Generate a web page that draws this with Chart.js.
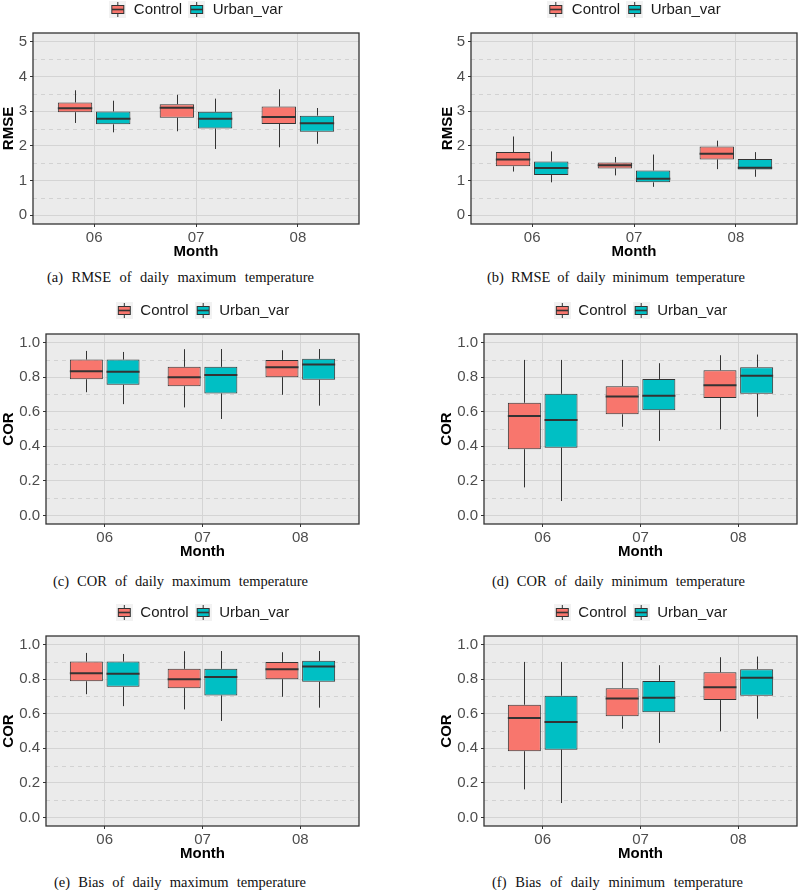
<!DOCTYPE html>
<html lang="en">
<head>
    <meta charset="UTF-8">
    <title>RMSE and COR of daily temperature</title>

    <style>
        body {
            margin: 0;
            width: 800px;
            height: 890px;
            position: relative;
            overflow: hidden;
            background: #ffffff;
        }
        canvas { position: absolute; }
        .legenda {
            position: absolute;
            font-family: "Liberation Serif", "Times New Roman", serif;
            font-size: 14.5px;
            line-height: 16px;
            color: #111;
            white-space: nowrap;
            text-align: justify;
            text-align-last: justify;
        }
    </style>

    <script src="https://cdn.jsdelivr.net/npm/chart.js"></script>
</head>
<body>
    <canvas id="gA" width="362" height="265" style="left:0px; top:-4px"></canvas>
    <canvas id="gB" width="361" height="265" style="left:439px; top:-4px"></canvas>
    <canvas id="gC" width="362" height="264" style="left:0px; top:297px"></canvas>
    <canvas id="gD" width="362" height="264" style="left:438px; top:297px"></canvas>
    <canvas id="gE" width="362" height="264" style="left:0px; top:599px"></canvas>
    <canvas id="gF" width="362" height="264" style="left:438px; top:599px"></canvas>

    <div class="legenda" style="left:47px; top:269px; width:267px">(a) RMSE of daily maximum temperature</div>
    <div class="legenda" style="left:487px; top:269px; width:258px">(b) RMSE of daily minimum temperature</div>
    <div class="legenda" style="left:53px; top:573px; width:255px">(c) COR of daily maximum temperature</div>
    <div class="legenda" style="left:492px; top:573px; width:253px">(d) COR of daily minimum temperature</div>
    <div class="legenda" style="left:54px; top:874px; width:252px">(e) Bias of daily maximum temperature</div>
    <div class="legenda" style="left:492px; top:874px; width:251px">(f) Bias of daily minimum temperature</div>

    <script>
        // Meses (eixo x) e posições das categorias
        const months = ['06', '07', '08'];
        const monthPos = [1, 2, 3];

        // Ticks do eixo y
        const rmseTicks = [0, 1, 2, 3, 4, 5];
        const rmseTickLabels = ['0', '1', '2', '3', '4', '5'];
        const rmseMinor = [0.5, 1.5, 2.5, 3.5, 4.5];
        const corTicks = [0, 0.2, 0.4, 0.6, 0.8, 1.0];
        const corTickLabels = ['0.0', '0.2', '0.4', '0.6', '0.8', '1.0'];
        const corMinor = [0.1, 0.3, 0.5, 0.7, 0.9];

        // Cada caixa: [mínimo, Q1, mediana, Q3, máximo]
        const rmseTmaxControl = [[2.66, 2.97, 3.08, 3.25, 3.60], [2.42, 2.81, 3.10, 3.20, 3.47], [1.96, 2.63, 2.83, 3.13, 3.63]];
        const rmseTmaxUrban   = [[2.39, 2.62, 2.78, 2.99, 3.30], [1.91, 2.50, 2.78, 2.98, 3.36], [2.06, 2.41, 2.65, 2.87, 3.09]];
        const rmseTminControl = [[1.26, 1.41, 1.61, 1.82, 2.27], [1.15, 1.35, 1.44, 1.52, 1.68], [1.33, 1.61, 1.77, 1.98, 2.15]];
        const rmseTminUrban   = [[0.95, 1.16, 1.36, 1.55, 1.84], [0.82, 0.95, 1.05, 1.29, 1.75], [1.11, 1.32, 1.37, 1.62, 1.82]];
        const corTmaxControl  = [[0.713, 0.788, 0.835, 0.902, 0.952], [0.625, 0.748, 0.800, 0.860, 0.962], [0.698, 0.800, 0.858, 0.900, 0.956]];
        const corTmaxUrban    = [[0.644, 0.756, 0.831, 0.902, 0.946], [0.558, 0.706, 0.812, 0.860, 0.963], [0.635, 0.785, 0.873, 0.906, 0.963]];
        const corTminControl  = [[0.162, 0.383, 0.575, 0.652, 0.900], [0.513, 0.585, 0.688, 0.748, 0.900], [0.498, 0.679, 0.754, 0.840, 0.927]];
        const corTminUrban    = [[0.083, 0.392, 0.552, 0.704, 0.900], [0.431, 0.608, 0.692, 0.790, 0.881], [0.571, 0.704, 0.808, 0.858, 0.931]];
        const biasTmaxControl = [[0.713, 0.788, 0.835, 0.902, 0.952], [0.625, 0.748, 0.800, 0.860, 0.962], [0.698, 0.800, 0.858, 0.900, 0.956]];
        const biasTmaxUrban   = [[0.644, 0.756, 0.831, 0.902, 0.946], [0.558, 0.706, 0.812, 0.860, 0.963], [0.635, 0.785, 0.873, 0.906, 0.963]];
        const biasTminControl = [[0.162, 0.383, 0.575, 0.652, 0.900], [0.513, 0.585, 0.688, 0.748, 0.900], [0.498, 0.679, 0.754, 0.840, 0.927]];
        const biasTminUrban   = [[0.083, 0.392, 0.552, 0.704, 0.900], [0.431, 0.608, 0.692, 0.790, 0.881], [0.571, 0.704, 0.808, 0.858, 0.931]];

        const corControl = '#F8766D';
        const corUrban = '#00BFC4';
        const corLinha = '#333333';

        Chart.defaults.font.family = '"Liberation Sans", Arial, sans-serif';

        // Ícone da legenda no estilo do ggplot (caixinha com mediana e bigodes)
        function iconeCaixa(cor) {
            const c = document.createElement('canvas');
            c.width = 17; c.height = 17;
            const g = c.getContext('2d');
            g.fillStyle = '#F2F2F2';
            g.fillRect(0, 0, 17, 17);
            g.strokeStyle = corLinha;
            g.lineWidth = 1;
            g.beginPath();
            g.moveTo(8.5, 1); g.lineTo(8.5, 4.5);
            g.moveTo(8.5, 12.5); g.lineTo(8.5, 16);
            g.stroke();
            g.fillStyle = cor;
            g.fillRect(2.5, 4.5, 12, 8);
            g.strokeRect(2.5, 4.5, 12, 8);
            g.lineWidth = 1.6;
            g.beginPath(); g.moveTo(2.5, 8.5); g.lineTo(14.5, 8.5); g.stroke();
            return c;
        }
        const icones = [iconeCaixa(corControl), iconeCaixa(corUrban)];

        // Plugin: fundo cinza, grade menor tracejada, bigodes, medianas e moldura
        function pluginCaixas(stats, minor) {
            return {
                id: 'caixas',
                beforeDraw(chart) {
                    const { ctx, chartArea: a } = chart;
                    ctx.save();
                    ctx.fillStyle = '#EBEBEB';
                    ctx.fillRect(a.left, a.top, a.width, a.height);
                    ctx.restore();
                },
                beforeDatasetsDraw(chart) {
                    const { ctx, chartArea: a } = chart;
                    const y = chart.scales.y;
                    ctx.save();
                    ctx.strokeStyle = '#D2D2D2';
                    ctx.lineWidth = 1;
                    ctx.setLineDash([4, 4]);
                    minor.forEach(v => {
                        const py = Math.round(y.getPixelForValue(v)) + 0.5;
                        ctx.beginPath();
                        ctx.moveTo(a.left, py);
                        ctx.lineTo(a.right, py);
                        ctx.stroke();
                    });
                    ctx.restore();
                },
                afterDatasetsDraw(chart) {
                    const { ctx } = chart;
                    const y = chart.scales.y;
                    ctx.save();
                    ctx.strokeStyle = corLinha;
                    stats.forEach((serie, di) => {
                        const meta = chart.getDatasetMeta(di);
                        meta.data.forEach((bar, i) => {
                            const [mn, q1, md, q3, mx] = serie[i];
                            const cx = Math.round(bar.x) + 0.5;
                            ctx.lineWidth = 1;
                            ctx.beginPath();
                            ctx.moveTo(cx, y.getPixelForValue(q3));
                            ctx.lineTo(cx, y.getPixelForValue(mx));
                            ctx.moveTo(cx, y.getPixelForValue(q1));
                            ctx.lineTo(cx, y.getPixelForValue(mn));
                            ctx.stroke();
                            ctx.lineWidth = 2;
                            ctx.beginPath();
                            ctx.moveTo(bar.x - bar.width / 2, y.getPixelForValue(md));
                            ctx.lineTo(bar.x + bar.width / 2, y.getPixelForValue(md));
                            ctx.stroke();
                        });
                    });
                    ctx.restore();
                },
                afterDraw(chart) {
                    const { ctx, chartArea: a } = chart;
                    ctx.save();
                    ctx.strokeStyle = corLinha;
                    ctx.lineWidth = 1.3;
                    ctx.strokeRect(a.left, a.top, a.width, a.height);
                    ctx.restore();
                }
            };
        }

        // Aumenta o espaço entre a legenda e o painel
        const espacoLegenda = {
            id: 'espacoLegenda',
            beforeInit(chart) {
                const fitOriginal = chart.legend.fit;
                chart.legend.fit = function () {
                    fitOriginal.bind(chart.legend)();
                    this.height += 6;
                };
            }
        };

        function criarGrafico(id, cfg) {
            const ctx = document.getElementById(id).getContext('2d');
            return new Chart(ctx, {
                type: 'bar',
                data: {
                    datasets: [
                        {
                            label: 'Control',
                            data: cfg.control.map((s, i) => ({ x: monthPos[i], y: [s[1], s[3]] })),
                            backgroundColor: corControl,
                            borderColor: corLinha,
                            borderWidth: 1,
                            borderSkipped: false
                        },
                        {
                            label: 'Urban_var',
                            data: cfg.urban.map((s, i) => ({ x: monthPos[i], y: [s[1], s[3]] })),
                            backgroundColor: corUrban,
                            borderColor: corLinha,
                            borderWidth: 1,
                            borderSkipped: false
                        }
                    ]
                },
                options: {
                    responsive: false,
                    animation: false,
                    categoryPercentage: 0.75,
                    barPercentage: 0.9,
                    layout: { padding: { left: 0, right: 3, top: 0, bottom: 0 } },
                    plugins: {
                        tooltip: { enabled: false },
                        legend: {
                            position: 'top',
                            fullSize: false,
                            labels: {
                                usePointStyle: true,
                                pointStyleWidth: 17,
                                padding: 6,
                                font: { size: 15 },
                                color: '#1A1A1A',
                                generateLabels: ch => ch.data.datasets.map((ds, i) => ({
                                    text: ds.label,
                                    pointStyle: icones[i],
                                    fontColor: '#1A1A1A',
                                    datasetIndex: i,
                                    hidden: false,
                                    lineWidth: 0
                                }))
                            }
                        }
                    },
                    scales: {
                        x: {
                            type: 'linear',
                            min: 0.4,
                            max: 3.6,
                            offset: false,
                            afterBuildTicks: s => { s.ticks = monthPos.map(v => ({ value: v })); },
                            afterFit: s => { s.height = 37; },
                            ticks: {
                                callback: (v, i) => months[i],
                                color: '#4D4D4D',
                                font: { size: 15 },
                                padding: 2,
                                autoSkip: false,
                                maxRotation: 0
                            },
                            grid: { offset: false, color: '#D4D4D4', tickColor: corLinha, tickLength: 3 },
                            border: { display: false },
                            title: {
                                display: true,
                                text: 'Month',
                                color: '#000000',
                                font: { size: 15, weight: 'bold' },
                                padding: 0
                            }
                        },
                        y: {
                            min: cfg.yMin,
                            max: cfg.yMax,
                            afterBuildTicks: s => { s.ticks = cfg.ticks.map(v => ({ value: v })); },
                            afterFit: s => { s.width = cfg.yWidth; },
                            ticks: {
                                callback: (v, i) => cfg.tickLabels[i],
                                color: '#4D4D4D',
                                font: { size: 15 },
                                padding: 3
                            },
                            grid: { color: '#D4D4D4', tickColor: corLinha, tickLength: 3 },
                            border: { display: false },
                            title: {
                                display: true,
                                text: cfg.yTitle,
                                color: '#000000',
                                font: { size: 15, weight: 'bold' },
                                padding: 0
                            }
                        }
                    }
                },
                plugins: [pluginCaixas([cfg.control, cfg.urban], cfg.minor), espacoLegenda]
            });
        }

        criarGrafico('gA', { control: rmseTmaxControl, urban: rmseTmaxUrban, yTitle: 'RMSE', yMin: -0.25, yMax: 5.25,
            ticks: rmseTicks, tickLabels: rmseTickLabels, minor: rmseMinor, yWidth: 33 });
        criarGrafico('gB', { control: rmseTminControl, urban: rmseTminUrban, yTitle: 'RMSE', yMin: -0.25, yMax: 5.25,
            ticks: rmseTicks, tickLabels: rmseTickLabels, minor: rmseMinor, yWidth: 32 });
        criarGrafico('gC', { control: corTmaxControl, urban: corTmaxUrban, yTitle: 'COR', yMin: -0.05, yMax: 1.05,
            ticks: corTicks, tickLabels: corTickLabels, minor: corMinor, yWidth: 46 });
        criarGrafico('gD', { control: corTminControl, urban: corTminUrban, yTitle: 'COR', yMin: -0.05, yMax: 1.05,
            ticks: corTicks, tickLabels: corTickLabels, minor: corMinor, yWidth: 46 });
        criarGrafico('gE', { control: biasTmaxControl, urban: biasTmaxUrban, yTitle: 'COR', yMin: -0.05, yMax: 1.05,
            ticks: corTicks, tickLabels: corTickLabels, minor: corMinor, yWidth: 46 });
        criarGrafico('gF', { control: biasTminControl, urban: biasTminUrban, yTitle: 'COR', yMin: -0.05, yMax: 1.05,
            ticks: corTicks, tickLabels: corTickLabels, minor: corMinor, yWidth: 46 });
    </script>
</body>
</html>
